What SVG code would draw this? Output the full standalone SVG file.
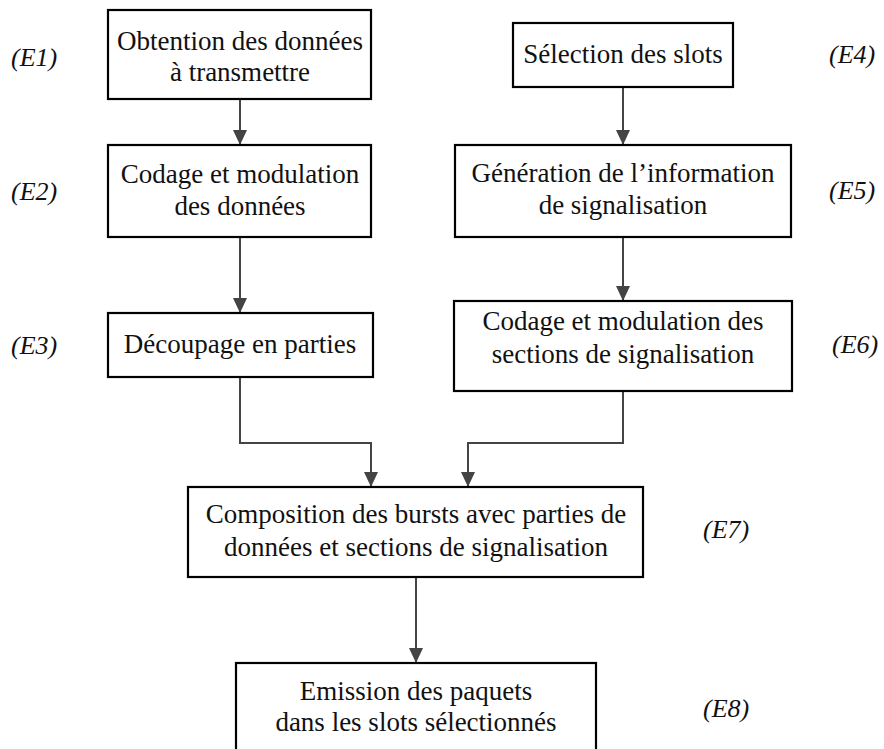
<svg xmlns="http://www.w3.org/2000/svg" width="884" height="749" viewBox="0 0 884 749">
  <style>
    .box { fill: #ffffff; stroke: #000000; stroke-width: 2.2; }
    .txt { font-family: 'Liberation Serif', 'Times New Roman', Tinos, serif; font-size: 27px; fill: #111111; text-anchor: middle; }
    .lbl { font-family: 'Liberation Serif', 'Times New Roman', Tinos, serif; font-size: 26px; font-style: italic; fill: #111111; }
    .link { fill: none; stroke: #444444; stroke-width: 2; marker-end: url(#arrow); }
  </style>
  <defs>
    <!-- filled triangular arrowhead, tip at the path end -->
    <marker id="arrow" markerWidth="15" markerHeight="14" refX="15" refY="7" orient="auto" markerUnits="userSpaceOnUse" viewBox="0 0 15 14">
      <path d="M0,0 L15,7 L0,14 Z" fill="#444444"/>
    </marker>
  </defs>
  <rect width="884" height="749" fill="#ffffff"/>

  <g id="connectors">
    <path class="link" d="M240,99 V145"/>
    <path class="link" d="M240,237 V313"/>
    <path class="link" d="M623,87 V145"/>
    <path class="link" d="M623,237 V301"/>
    <path class="link" d="M240,377 V443 H371 V487"/>
    <path class="link" d="M623,391 V443 H468 V487"/>
    <path class="link" d="M416,577 V663"/>
  </g>

  <g id="e1">
    <rect class="box" x="108" y="10" width="263" height="89"/>
    <text class="txt" x="240" y="50">Obtention des données</text>
    <text class="txt" x="240" y="81">à transmettre</text>
  </g>
  <g id="e2">
    <rect class="box" x="108" y="145" width="263" height="92"/>
    <text class="txt" x="240" y="183">Codage et modulation</text>
    <text class="txt" x="240" y="215">des données</text>
  </g>
  <g id="e3">
    <rect class="box" x="108" y="313" width="265" height="64"/>
    <text class="txt" x="240" y="353">Découpage en parties</text>
  </g>
  <g id="e4">
    <rect class="box" x="513" y="23" width="220" height="64"/>
    <text class="txt" x="623" y="63">Sélection des slots</text>
  </g>
  <g id="e5">
    <rect class="box" x="455" y="145" width="336" height="92"/>
    <text class="txt" x="623" y="182">Génération de l’information</text>
    <text class="txt" x="623" y="214">de signalisation</text>
  </g>
  <g id="e6">
    <rect class="box" x="454" y="301" width="338" height="90"/>
    <text class="txt" x="623" y="330">Codage et modulation des</text>
    <text class="txt" x="623" y="363">sections de signalisation</text>
  </g>
  <g id="e7">
    <rect class="box" x="188" y="487" width="455" height="90"/>
    <text class="txt" x="416" y="523">Composition des bursts avec parties de</text>
    <text class="txt" x="416" y="556">données et sections de signalisation</text>
  </g>
  <g id="e8">
    <rect class="box" x="236" y="663" width="360" height="100"/>
    <text class="txt" x="416" y="700">Emission des paquets</text>
    <text class="txt" x="416" y="731">dans les slots sélectionnés</text>
  </g>

  <g id="labels">
    <text class="lbl" x="11" y="66">(E1)</text>
    <text class="lbl" x="11" y="200">(E2)</text>
    <text class="lbl" x="11" y="354">(E3)</text>
    <text class="lbl" x="829" y="63">(E4)</text>
    <text class="lbl" x="829" y="199">(E5)</text>
    <text class="lbl" x="832" y="353">(E6)</text>
    <text class="lbl" x="703" y="538">(E7)</text>
    <text class="lbl" x="703" y="717">(E8)</text>
  </g>
</svg>
